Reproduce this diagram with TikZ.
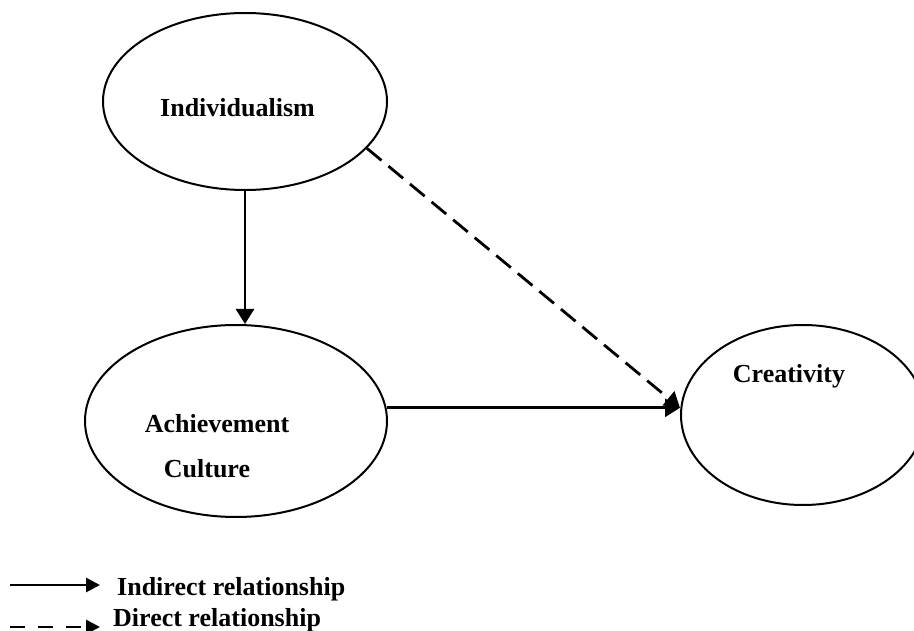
\documentclass[tikz,border=0pt]{standalone}
\usepackage{fontspec}
\setmainfont{Liberation Serif}
\usetikzlibrary{shapes.geometric,arrows.meta}
\begin{document}
\begin{tikzpicture}[x=1pt,y=-1pt,
  construct/.style={draw,line width=2pt,shape=ellipse,inner sep=0pt},
  lbl/.style={anchor=base,inner sep=0pt,font=\fontsize{26}{30}\selectfont\bfseries},
  link/.style={line width=2.8pt,-{Triangle[length=15pt,width=18pt]}},
  keylink/.style={line width=2.8pt,-{Triangle[length=14pt,width=14pt]}}]
\useasboundingbox (0,0) rectangle (914,631);

% constructs
\node[construct,minimum width=284pt,minimum height=177pt] (indiv) at (245,101.5) {};
\node[construct,minimum width=302pt,minimum height=192pt] (achv) at (236,421) {};
\node[construct,minimum width=244pt,minimum height=180pt] (crea) at (803,415) {};

% construct names
\node[lbl] (tindiv) at (237.5,117) {Individualism};
\node[lbl] (tachv) at (217,432) {Achievement};
\node[lbl] (tcult) at (207,477) {Culture};
\node[lbl] (tcrea) at (789,383) {Creativity};

% paths
\coordinate (meet) at (achv.5 -| crea.west);
\draw[link] (indiv.south) -- (indiv.south |- achv.north);
\draw[link] (achv.5) -- (meet);
\draw[link,dash pattern=on 19pt off 9pt] (indiv.-21) -- (meet);

% key
\coordinate (k1a) at (10,585);
\coordinate (k1b) at (100,585);
\coordinate (k2a) at (10,627);
\coordinate (k2b) at (100,627);
\draw[keylink] (k1a) -- (k1b);
\draw[keylink,dash pattern=on 15pt off 13pt] (k2a) -- (k2b);
\node[lbl,anchor=base west] (kind) at (117,595) {Indirect relationship};
\node[lbl,anchor=base west] (kdir) at (113,626) {Direct relationship};
\end{tikzpicture}
\end{document}
